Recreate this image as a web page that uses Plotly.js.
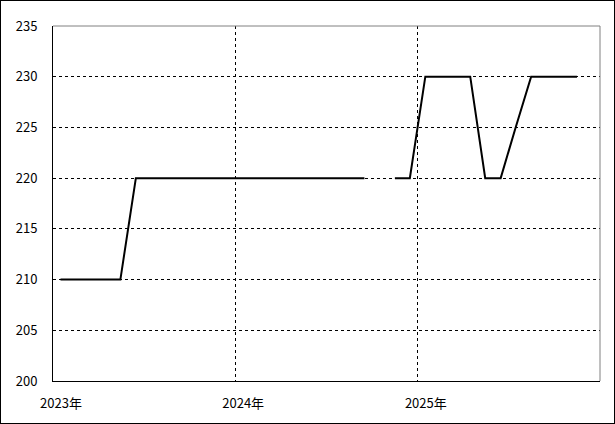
<!DOCTYPE html>
<html>
<head>
<meta charset="utf-8">
<script src="https://cdn.plot.ly/plotly-3.0.1.min.js"></script>
<style>
html,body{margin:0;padding:0;background:#fff;}
#chart{width:613px;height:422px;border:1px solid #000;}
</style>
</head>
<body>
<div id="chart"></div>
<script>
// Monthly observation dates (mid-month) and values
const dates = [
  "2023-01-16","2023-02-16","2023-03-16","2023-04-16","2023-05-16","2023-06-16",
  "2023-07-16","2023-08-16","2023-09-16","2023-10-16","2023-11-16","2023-12-16",
  "2024-01-16","2024-02-16","2024-03-16","2024-04-16","2024-05-16","2024-06-16",
  "2024-07-16","2024-08-16","2024-09-16","2024-10-16","2024-11-16","2024-12-16",
  "2025-01-16","2025-02-16","2025-03-16","2025-04-16","2025-05-16","2025-06-16",
  "2025-07-16","2025-08-16","2025-09-16","2025-10-16","2025-11-16"
];
const values = [
  210,210,210,210,210,220,
  220,220,220,220,220,220,
  220,220,220,220,220,220,
  220,220,220,null,220,220,
  230,230,230,230,220,220,
  225,230,230,230,230
];
const xTickVals = ["2023-01-01","2024-01-01","2025-01-01"];
const xTickText = ["2023年","2024年","2025年"];
const yTickVals = [200,205,210,215,220,225,230,235];

const font = {family: "'Noto Sans CJK JP', 'Liberation Sans', sans-serif", size: 13, color: "#000"};

Plotly.newPlot("chart", [{
  x: dates,
  y: values,
  type: "scatter",
  mode: "lines",
  connectgaps: false,
  line: {color: "#000", width: 2},
  hoverinfo: "skip"
}], {
  width: 613, height: 422,
  margin: {l: 52, r: 14, t: 25, b: 42, pad: 0},
  paper_bgcolor: "#fff",
  plot_bgcolor: "#fff",
  showlegend: false,
  font: font,
  xaxis: {
    type: "date",
    range: ["2023-01-01", "2026-01-01"],
    tickmode: "array",
    tickvals: xTickVals,
    ticktext: xTickText,
    showgrid: true,
    gridcolor: "#000",
    griddash: "3px,3px",
    gridwidth: 1,
    showline: true,
    linecolor: "#000",
    linewidth: 1,
    ticks: "",
    ticklabelstandoff: 10,
    ticklabelshift: 8,
    zeroline: false,
    tickfont: font
  },
  yaxis: {
    range: [200, 235],
    tickmode: "array",
    tickvals: yTickVals,
    showgrid: true,
    gridcolor: "#000",
    griddash: "3px,3px",
    gridwidth: 1,
    showline: true,
    linecolor: "#000",
    linewidth: 1,
    ticks: "",
    ticklabelstandoff: 12,
    zeroline: false,
    tickfont: font
  },
  shapes: [
    {type: "line", xref: "paper", yref: "paper", x0: 0, x1: 1, y0: 1, y1: 1, line: {color: "#808080", width: 1}, layer: "above"},
    {type: "line", xref: "paper", yref: "paper", x0: 1, x1: 1, y0: 0, y1: 1, line: {color: "#808080", width: 1}, layer: "above"}
  ]
}, {staticPlot: true, displayModeBar: false});
</script>
</body>
</html>
